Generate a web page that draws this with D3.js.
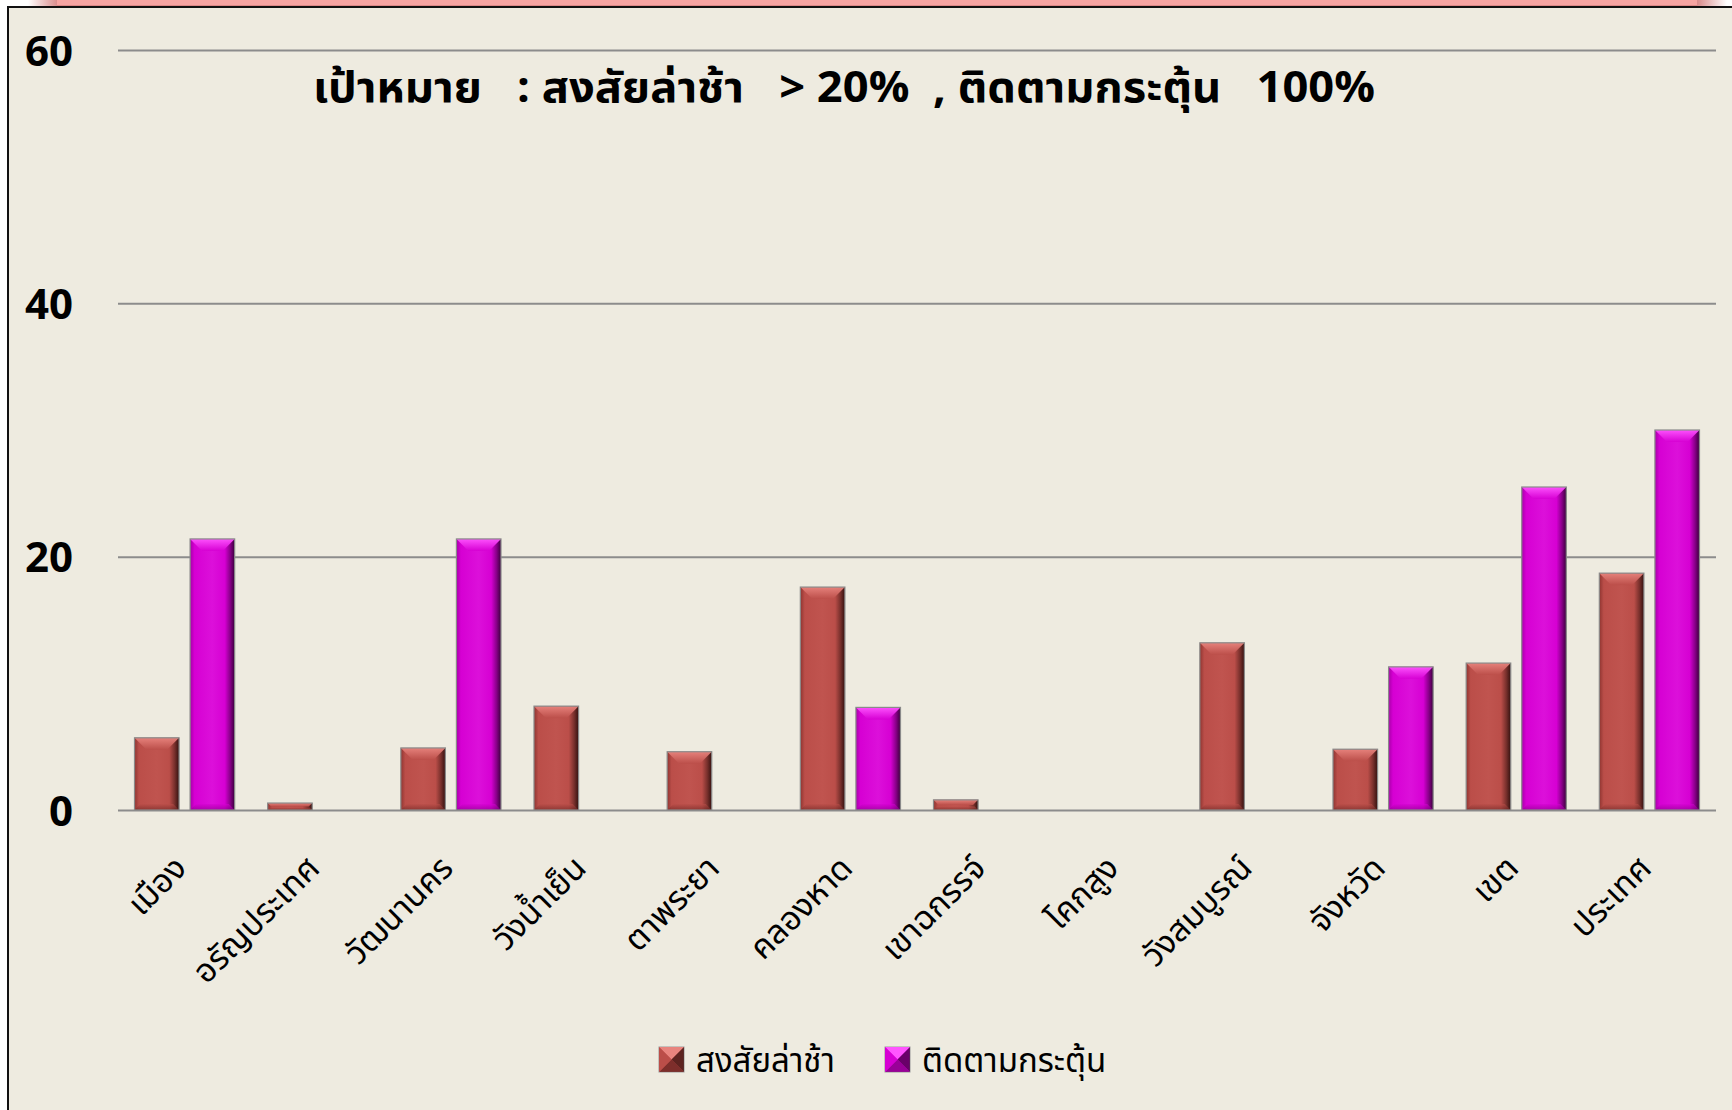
<!DOCTYPE html>
<html><head><meta charset="utf-8">
<script src="https://cdn.jsdelivr.net/npm/d3@7/dist/d3.min.js"></script>
<style>
html,body{margin:0;padding:0;background:#fff;overflow:hidden;}
svg{display:block;}
</style></head>
<body>
<svg id="c" width="1732" height="1110"></svg>
<script>
const categories = ["เมือง","อรัญประเทศ","วัฒนานคร","วังน้ำเย็น","ตาพระยา","คลองหาด","เขาฉกรรจ์","โคกสูง","วังสมบูรณ์","จังหวัด","เขต","ประเทศ"];
const seriesNames = ["สงสัยล่าช้า","ติดตามกระตุ้น"];
const suspected = [5.7, 0.55, 4.9, 8.2, 4.6, 17.6, 0.8, 0, 13.2, 4.8, 11.6, 18.7];
const followUp  = [21.4, 0, 21.4, 0, 0, 8.1, 0, 0, 0, 11.3, 25.5, 30.0];
const yTicks = [0, 20, 40, 60];
const titleText = "เป้าหมาย   : สงสัยล่าช้า   > 20%  , ติดตามกระตุ้น   100%";

const thaiFont = "'Noto Sans Thai','Noto Sans Thai UI','Leelawadee UI',Tahoma,'Noto Sans',sans-serif";
const svg = d3.select("#c");
const W = 1732, H = 1110;

const palettes = [
  {edgeL:"#8f3531", body:"#bb4e49", mid:"#c0544f", edgeR:"#34110f", top:"#e8847e", bot:"#6e2724"},
  {edgeL:"#a800a8", body:"#d600d3", mid:"#dc10da", edgeR:"#3a003c", top:"#ff55ff", bot:"#8a008a"}
];

const defs = svg.append("defs");
palettes.forEach((p,i)=>{
  const g = defs.append("linearGradient").attr("id","body"+i).attr("x1","0").attr("x2","1").attr("y1","0").attr("y2","0");
  [[0,p.edgeL],[0.1,p.body],[0.5,p.mid],[0.78,p.body],[0.9,d3.interpolateRgb(p.body,p.edgeR)(0.5)],[1,p.edgeR]]
    .forEach(([o,c])=>g.append("stop").attr("offset",o).attr("stop-color",c));
  const t = defs.append("linearGradient").attr("id","top"+i).attr("x1","0").attr("x2","0").attr("y1","0").attr("y2","1");
  t.append("stop").attr("offset",0).attr("stop-color",p.top);
  t.append("stop").attr("offset",1).attr("stop-color",p.body);
  const b = defs.append("linearGradient").attr("id","bot"+i).attr("x1","0").attr("x2","0").attr("y1","0").attr("y2","1");
  b.append("stop").attr("offset",0).attr("stop-color",p.body);
  b.append("stop").attr("offset",1).attr("stop-color",p.bot);
});
const fadeL = defs.append("linearGradient").attr("id","fadeL").attr("x1","0").attr("x2","1");
fadeL.append("stop").attr("offset",0).attr("stop-color","#ffffff");
fadeL.append("stop").attr("offset",1).attr("stop-color","#d98a8a");
const fadeR = defs.append("linearGradient").attr("id","fadeR").attr("x1","0").attr("x2","1");
fadeR.append("stop").attr("offset",0).attr("stop-color","#d98a8a");
fadeR.append("stop").attr("offset",1).attr("stop-color","#ffffff");

// background + frame
svg.append("rect").attr("x",0).attr("y",0).attr("width",W).attr("height",H).attr("fill","#ffffff");
svg.append("rect").attr("x",28).attr("y",0).attr("width",30).attr("height",7).attr("fill","url(#fadeL)");
svg.append("rect").attr("x",1697).attr("y",0).attr("width",30).attr("height",7).attr("fill","url(#fadeR)");
svg.append("rect").attr("x",57).attr("y",0).attr("width",1640).attr("height",7).attr("fill","#f6a4a2");
svg.append("line").attr("x1",57).attr("x2",1697).attr("y1",6).attr("y2",6).attr("stroke","#c46a6a").attr("stroke-width",1);
svg.append("rect").attr("x",8).attr("y",7).attr("width",W).attr("height",H).attr("fill","#eeebe0")
  .attr("stroke","#111").attr("stroke-width",2);

const plotL = 118, plotR = 1716;
const y = d3.scaleLinear().domain([0,60]).range([810,50]);
const x0 = d3.scaleBand().domain(categories).range([plotL, plotR]).paddingInner(0).paddingOuter(0);
const x1 = d3.scaleBand().domain(seriesNames).range([16.5, x0.bandwidth()-16.5]).paddingInner(0.198).paddingOuter(0);

// gridlines via axis
const yAxis = d3.axisLeft(y).tickValues(yTicks).tickSize(-(plotR-plotL)).tickFormat(d3.format("d"));
const ga = svg.append("g").attr("transform",`translate(${plotL},0)`).call(yAxis);
ga.select(".domain").remove();
ga.selectAll(".tick line").attr("stroke","#8c8c8c").attr("stroke-width",2);
ga.selectAll(".tick text").attr("x",-45).attr("dy","0.36em")
  .attr("font-family","'Open Sans',Tahoma,sans-serif").attr("font-weight","bold")
  .attr("font-size",42).attr("fill","#000").attr("text-anchor","end");

// title
svg.append("text").attr("x",313).attr("y",102).text(titleText)
  .attr("font-family",thaiFont).attr("font-weight","bold").attr("font-size",43)
  .attr("fill","#000").attr("textLength",1062).attr("lengthAdjust","spacingAndGlyphs")
  .style("white-space","pre").attr("xml:space","preserve");

// bars
const seriesData = [suspected, followUp];
function drawBar(g, bx, w, v, i){
  if(!(v>0)) return;
  const yt = y(v), yb = y(0), h = yb-yt;
  const bev = Math.min(12, h/2, w/3);
  const bb = Math.min(6, h/3);
  g.append("rect").attr("x",bx).attr("y",yt).attr("width",w).attr("height",h).attr("fill",`url(#body${i})`);
  g.append("polygon").attr("points",[[bx,yt],[bx+w,yt],[bx+w-bev,yt+bev],[bx+bev,yt+bev]].map(p=>p.join(",")).join(" "))
    .attr("fill",`url(#top${i})`).attr("opacity",0.95);
  g.append("polygon").attr("points",[[bx,yb],[bx+w,yb],[bx+w-bb,yb-bb],[bx+bb,yb-bb]].map(p=>p.join(",")).join(" "))
    .attr("fill",`url(#bot${i})`).attr("opacity",0.6);
  g.append("rect").attr("x",bx).attr("y",yt).attr("width",w).attr("height",h)
    .attr("fill","none").attr("stroke","#8a8a8a").attr("stroke-width",1.2);
}
const bars = svg.append("g");
categories.forEach((c,ci)=>{
  seriesNames.forEach((s,si)=>{
    drawBar(bars, x0(c)+x1(s), x1.bandwidth(), seriesData[si][ci], si);
  });
});

// x labels
const xl = svg.append("g");
categories.forEach(c=>{
  const cx = x0(c)+x0.bandwidth()/2;
  xl.append("text").attr("transform",`translate(${cx+4},${870}) rotate(-45)`)
    .attr("text-anchor","end").attr("font-family",thaiFont).attr("font-size",33)
    .attr("fill","#000").text(c);
});

// legend
const legItems = [{name:seriesNames[0],x:659,tx:696},{name:seriesNames[1],x:885,tx:922}];
legItems.forEach((d,i)=>{
  const sx = d.x, sy = 1047, s = 25;
  const lg = svg.append("g");
  lg.append("rect").attr("x",sx).attr("y",sy).attr("width",s).attr("height",s).attr("fill",palettes[i].body).attr("stroke","#999").attr("stroke-width",1);
  const c = [sx+s/2, sy+s/2];
  lg.append("polygon").attr("points",[[sx,sy],[sx+s,sy],c].map(p=>p.join(",")).join(" ")).attr("fill",palettes[i].top);
  lg.append("polygon").attr("points",[[sx+s,sy],[sx+s,sy+s],c].map(p=>p.join(",")).join(" ")).attr("fill",palettes[i].edgeR).attr("opacity",0.7);
  lg.append("polygon").attr("points",[[sx,sy+s],[sx+s,sy+s],c].map(p=>p.join(",")).join(" ")).attr("fill",palettes[i].bot).attr("opacity",0.8);
  lg.append("polygon").attr("points",[[sx,sy],[sx,sy+s],c].map(p=>p.join(",")).join(" ")).attr("fill",palettes[i].body);
  lg.append("text").attr("x",d.tx).attr("y",1072).attr("font-family",thaiFont).attr("font-size",33)
    .attr("fill","#000").text(d.name);
});
</script>
</body></html>
